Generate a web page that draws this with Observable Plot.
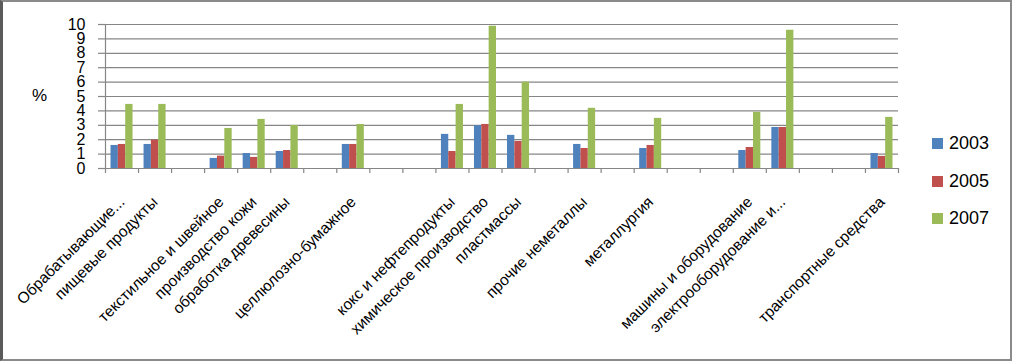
<!DOCTYPE html>
<html>
<head>
<meta charset="utf-8">
<script src="https://cdn.jsdelivr.net/npm/d3@7"></script>
<script src="https://cdn.jsdelivr.net/npm/@observablehq/plot@0.6"></script>
<style>
  html, body { margin: 0; padding: 0; background: #fff; }
  #wrap { position: relative; width: 1012px; height: 361px; overflow: hidden; }
  #frame { position: absolute; left: 0; top: 0; width: 1012px; height: 361px; box-sizing: border-box;
           border-top: 2px solid #8a8a8a; border-right: 2px solid #8a8a8a; border-bottom: 2px solid #8a8a8a;
           border-left: 3px solid #5a5a5a; pointer-events: none; }
  #legend { position: absolute; left: 932px; top: 130px; font-family: "Liberation Sans", Arial, sans-serif; font-size: 18px; color: #000; }
  .item { position: relative; height: 37.5px; }
  .sw { position: absolute; left: 0; top: 8px; width: 11px; height: 11px; }
  .lab { position: absolute; left: 17px; top: 2px; line-height: 22px; }
  #ylab { position: absolute; left: 32px; top: 86px; font-family: "Liberation Sans", Arial, sans-serif; font-size: 17px; }
</style>
</head>
<body>
<div id="wrap">
  <div id="chart"></div>
  <div id="ylab">%</div>
  <div id="legend"></div>
  <div id="frame"></div>
</div>
<script>
const categories = ["Обрабатывающие...", "пищевые продукты", "", "текстильное и швейное", "производство кожи", "обработка древесины", "", "целлюлозно-бумажное", "", "", "кокс и нефтепродукты", "химическое производство", "пластмассы", "", "прочие неметаллы", "", "металлургия", "", "", "машины и оборудование", "электрооборудование и...", "", "", "транспортные средства"];
const years = ["2003", "2005", "2007"];
const v2003 = [1.6, 1.67, null, 0.7, 1.04, 1.18, null, 1.67, null, null, 2.37, 2.97, 2.3, null, 1.67, null, 1.39, null, null, 1.25, 2.85, null, null, 1.04];
const v2005 = [1.67, 1.97, null, 0.86, 0.77, 1.25, null, 1.67, null, null, 1.18, 3.06, 1.88, null, 1.39, null, 1.6, null, null, 1.46, 2.85, null, null, 0.84];
const v2007 = [4.45, 4.45, null, 2.78, 3.41, 2.99, null, 3.06, null, null, 4.45, 9.88, 6.0, null, 4.18, null, 3.48, null, null, 3.9, 9.6, null, null, 3.55];
const yTicks = [0, 1, 2, 3, 4, 5, 6, 7, 8, 9, 10];
const colors = ["#4F81BD", "#C0504D", "#9BBB59"];

const series = [v2003, v2005, v2007];
const data = [];
categories.forEach((c, i) => {
  series.forEach((s, k) => {
    if (s[i] != null) data.push({slot: i, k, year: years[k], value: s[i]});
  });
});
const labels = categories.map((c, i) => ({slot: i, name: c})).filter(d => d.name !== "");
const nSlots = categories.length;

const gray = "#868686";
const font = "'Liberation Sans', Arial, sans-serif";

const plot = Plot.plot({
  width: 1012,
  height: 361,
  marginLeft: 105,
  marginRight: 114,
  marginTop: 24,
  marginBottom: 193,
  style: {fontFamily: font, background: "transparent", overflow: "visible"},
  x: {type: "linear", domain: [0, nSlots], axis: null},
  y: {domain: [0, 10], axis: null},
  color: {domain: years, range: colors},
  marks: [
    Plot.gridY(yTicks, {stroke: gray, strokeOpacity: 1, strokeWidth: 1.2}),
    Plot.axisY(yTicks, {tickSize: 7, tickPadding: 13, stroke: gray, strokeOpacity: 1, strokeWidth: 1.2, fontSize: 16, fill: "#000", label: null}),
    Plot.ruleX([0], {stroke: gray, strokeWidth: 1.2}),
    Plot.axisX(d3.range(nSlots + 1), {tickSize: 5, stroke: gray, strokeOpacity: 1, strokeWidth: 1.2, tickFormat: () => "", label: null}),
    Plot.rectY(data, {
      x1: d => d.slot + 1/6 + d.k * 2/9,
      x2: d => d.slot + 1/6 + (d.k + 1) * 2/9,
      y: "value",
      fill: "year",
      inset: 0
    }),
    Plot.ruleY([0], {stroke: gray, strokeWidth: 1.2}),
    Plot.text(labels, {
      x: d => d.slot + 0.5,
      frameAnchor: "bottom",
      text: "name",
      rotate: -45,
      textAnchor: "end",
      lineAnchor: "middle",
      dx: 0,
      dy: 31,
      fontSize: 15.5,
      fill: "#000"
    })
  ]
});
document.getElementById("chart").appendChild(plot);

const legend = document.getElementById("legend");
years.forEach((y, i) => {
  const item = document.createElement("div");
  item.className = "item";
  const sw = document.createElement("div");
  sw.className = "sw";
  sw.style.background = colors[i];
  const lab = document.createElement("div");
  lab.className = "lab";
  lab.textContent = y;
  item.appendChild(sw);
  item.appendChild(lab);
  legend.appendChild(item);
});
</script>
</body>
</html>
